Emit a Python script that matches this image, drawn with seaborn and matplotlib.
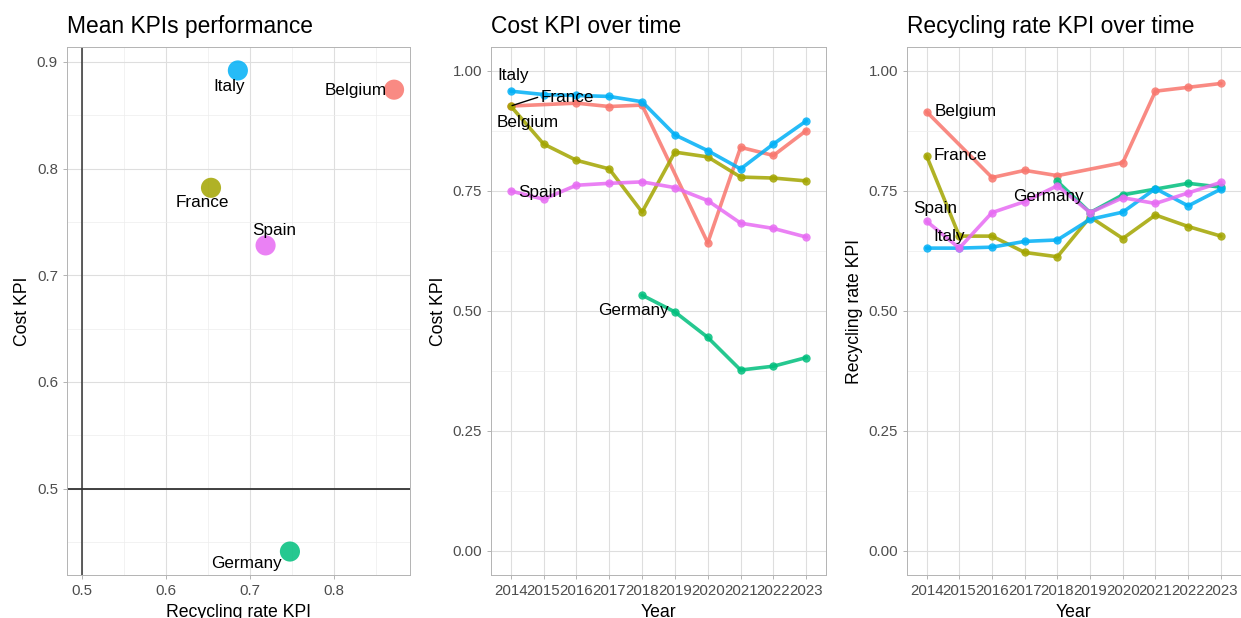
import numpy as np
import pandas as pd
import seaborn as sns
from matplotlib import pyplot as plt
from matplotlib.ticker import MultipleLocator, FormatStrFormatter

# ---- data ----
countries = ["Belgium", "France", "Germany", "Italy", "Spain"]
colors = ["#F8766D", "#A3A500", "#00BF7D", "#00B0F6", "#E76BF3"]
years = [2014, 2015, 2016, 2017, 2018, 2019, 2020, 2021, 2022, 2023]

# mean KPIs (scatter)
mean_recycling = [0.872, 0.654, 0.748, 0.686, 0.719]
mean_cost = [0.874, 0.782, 0.441, 0.892, 0.728]

# cost KPI per year (None = no value that year)
cost_belgium = [0.927, None, 0.933, 0.926, 0.929, None, 0.642, 0.841, 0.824, 0.876]
cost_france = [0.927, 0.848, 0.814, 0.796, 0.706, 0.831, 0.821, 0.779, 0.777, 0.771]
cost_germany = [None, None, None, None, 0.533, 0.498, 0.445, 0.377, 0.385, 0.403]
cost_italy = [0.958, 0.951, 0.949, 0.947, 0.936, 0.867, 0.834, 0.796, 0.848, 0.896]
cost_spain = [0.750, 0.733, 0.762, 0.766, 0.769, 0.757, 0.730, 0.683, 0.672, 0.654]

# recycling rate KPI per year
rec_belgium = [0.915, None, 0.778, 0.793, 0.782, None, 0.809, 0.958, 0.966, 0.974]
rec_france = [0.823, 0.656, 0.656, 0.622, 0.613, 0.696, 0.651, 0.700, 0.676, 0.656]
rec_germany = [None, None, None, None, 0.770, 0.705, 0.742, 0.754, 0.766, 0.758]
rec_italy = [0.631, 0.631, 0.633, 0.645, 0.648, 0.691, 0.706, 0.755, 0.719, 0.754]
rec_spain = [0.687, 0.631, 0.705, 0.728, 0.761, 0.705, 0.736, 0.724, 0.746, 0.768]

palette = dict(zip(countries, colors))


def long_frame(series):
    rows = []
    for name, vals in zip(countries, series):
        for yr, v in zip(years, vals):
            if v is not None:
                rows.append({"country": name, "year": yr, "value": v})
    return pd.DataFrame(rows)


cost_df = long_frame([cost_belgium, cost_france, cost_germany, cost_italy, cost_spain])
rec_df = long_frame([rec_belgium, rec_france, rec_germany, rec_italy, rec_spain])
mean_df = pd.DataFrame({"country": countries, "recycling": mean_recycling, "cost": mean_cost})

# ---- style ----
sns.set_theme(style="whitegrid")
plt.rcParams["font.family"] = ["Liberation Sans", "DejaVu Sans"]
plt.rcParams.update({
    "axes.edgecolor": "#B3B3B3",
    "axes.linewidth": 0.7,
    "grid.color": "#DEDEDE",
    "grid.linewidth": 0.8,
    "xtick.color": "#B3B3B3",
    "ytick.color": "#B3B3B3",
    "xtick.labelcolor": "#4D4D4D",
    "ytick.labelcolor": "#4D4D4D",
    "xtick.major.size": 3,
    "ytick.major.size": 3,
    "xtick.major.width": 0.7,
    "ytick.major.width": 0.7,
    "xtick.major.pad": 3.5,
    "ytick.major.pad": 3.5,
    "xtick.labelsize": 10.8,
    "ytick.labelsize": 10.8,
    "xtick.bottom": True,
    "ytick.left": True,
})

fig, axes = plt.subplots(ncols=3, figsize=(12.41, 6.18), dpi=100)
bottom, top = 1 - 575 / 618, 1 - 47 / 618
axes[0].set_position([67 / 1241, bottom, (410 - 67) / 1241, top - bottom])
axes[1].set_position([491 / 1241, bottom, (826 - 491) / 1241, top - bottom])
axes[2].set_position([907 / 1241, bottom, (1240.5 - 907) / 1241, top - bottom])

label_kw = dict(fontsize=12.3, color="black", ha="center", va="center")


def style_axis(ax, title, xlabel, ylabel):
    ax.set_title(title, loc="left", fontsize=16.4, pad=10, color="black")
    ax.set_xlabel(xlabel, fontsize=12.7, color="black", labelpad=4.5)
    ax.set_ylabel(ylabel, fontsize=12.7, color="black", labelpad=4)
    ax.grid(which="minor", color="#EDEDED", linewidth=0.5)
    ax.tick_params(which="minor", length=0)
    for sp in ax.spines.values():
        sp.set_visible(True)
        sp.set_color("#B3B3B3")


# ---- panel 1: mean KPIs ----
ax = axes[0]
ax.axhline(0.5, color="#333333", linewidth=1.3, zorder=1)
ax.axvline(0.5, color="#333333", linewidth=1.1, zorder=1)
sns.scatterplot(data=mean_df, x="recycling", y="cost", hue="country", palette=palette,
                s=210, alpha=0.85, edgecolor="none", legend=False, ax=ax, zorder=3)
ax.set_xlim(0.4825, 0.891)
ax.set_ylim(0.419, 0.914)
ax.xaxis.set_major_locator(MultipleLocator(0.1))
ax.xaxis.set_minor_locator(MultipleLocator(0.05))
ax.yaxis.set_major_locator(MultipleLocator(0.1))
ax.yaxis.set_minor_locator(MultipleLocator(0.05))
ax.xaxis.set_major_formatter(FormatStrFormatter("%.1f"))
ax.yaxis.set_major_formatter(FormatStrFormatter("%.1f"))
style_axis(ax, "Mean KPIs performance", "Recycling rate KPI", "Cost KPI")

offsets_mean = {"Italy": (-9, -16), "Belgium": (-38, -1), "France": (-9, -15),
                "Spain": (9, 15), "Germany": (-43, -12)}
for name, xv, yv in zip(countries, mean_recycling, mean_cost):
    ax.annotate(name, xy=(xv, yv), xytext=offsets_mean[name], textcoords="offset pixels",
                zorder=4, **label_kw)


# ---- panels 2 and 3: KPIs over time ----
def time_panel(ax, df, title, ylabel, offsets, segment=()):
    sns.lineplot(data=df, x="year", y="value", hue="country", palette=palette,
                 marker="o", markersize=6, markeredgewidth=0, linewidth=2.6,
                 alpha=0.85, legend=False, ax=ax, sort=True)
    ax.set_xlim(2013.4, 2023.6)
    ax.set_ylim(-0.05, 1.05)
    ax.set_xticks(years)
    ax.set_xticklabels([str(y) for y in years])
    ax.yaxis.set_major_locator(MultipleLocator(0.25))
    ax.yaxis.set_minor_locator(MultipleLocator(0.125))
    ax.yaxis.set_major_formatter(FormatStrFormatter("%.2f"))
    style_axis(ax, title, "Year", ylabel)
    for name in countries:
        first = df[df["country"] == name].iloc[0]
        dx, dy = offsets[name]
        extra = {}
        if name in segment:
            extra["arrowprops"] = dict(arrowstyle="-", color="black", lw=1.0,
                                       shrinkA=0, shrinkB=1, relpos=(0, 0.55))
        ax.annotate(name, xy=(first["year"], first["value"]), xytext=(dx, dy),
                    textcoords="offset pixels", zorder=5, **extra, **label_kw)


time_panel(axes[1], cost_df, "Cost KPI over time", "Cost KPI",
           {"Italy": (2, 16), "France": (57, 9), "Belgium": (17, -16),
            "Spain": (29, -2), "Germany": (-9, -15)},
           segment=("France",))
time_panel(axes[2], rec_df, "Recycling rate KPI over time", "Recycling rate KPI",
           {"Belgium": (39, 0), "France": (34, 0), "Spain": (9, 13),
            "Italy": (23, 12), "Germany": (-9, -15)})

fig.savefig("out.png", dpi=100)
